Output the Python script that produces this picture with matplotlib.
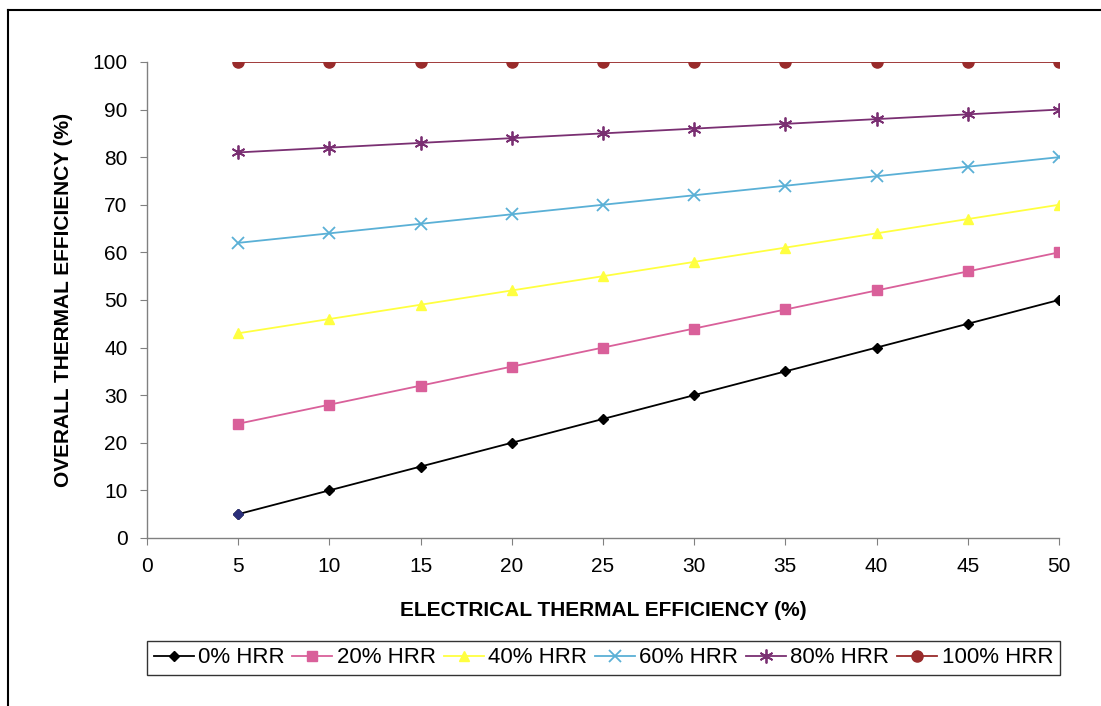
import matplotlib.pyplot as plt
from matplotlib.lines import Line2D

# electrical thermal efficiency (%)
elec_eff = [5, 10, 15, 20, 25, 30, 35, 40, 45, 50]

# overall thermal efficiency (%) for each heat recovery ratio
hrr_0 = [5, 10, 15, 20, 25, 30, 35, 40, 45, 50]
hrr_20 = [24, 28, 32, 36, 40, 44, 48, 52, 56, 60]
hrr_40 = [43, 46, 49, 52, 55, 58, 61, 64, 67, 70]
hrr_60 = [62, 64, 66, 68, 70, 72, 74, 76, 78, 80]
hrr_80 = [81, 82, 83, 84, 85, 86, 87, 88, 89, 90]
hrr_100 = [100, 100, 100, 100, 100, 100, 100, 100, 100, 100]

labels = ['0% HRR', '20% HRR', '40% HRR', '60% HRR', '80% HRR', '100% HRR']

plt.rcParams['font.family'] = ['Liberation Sans', 'DejaVu Sans']

fig = plt.figure(figsize=(11.01, 7.06), dpi=100)
ax = fig.add_axes([0.1335, 0.238, 0.8283, 0.6742])

styles = [
    dict(color='black', marker='D', markersize=5),
    dict(color='#d9609a', marker='s', markersize=7),
    dict(color='#ffff40', marker='^', markersize=7),
    dict(color='#5ab0d6', marker='x', markersize=8, markeredgewidth=1.3),
    dict(color='#7a2f72', marker=(6, 2, 0), markersize=10, markeredgewidth=1.3),
    dict(color='#992b2b', marker='o', markersize=8),
]
series = [hrr_0, hrr_20, hrr_40, hrr_60, hrr_80, hrr_100]

for ys, lab, st in zip(series, labels, styles):
    ax.plot(elec_eff, ys, linewidth=1.3, label=lab, **st)

# first point of the 0% series is navy in the original Excel chart
ax.plot(elec_eff[0], hrr_0[0], marker='D', markersize=5, color='#2b2f7a', linestyle='none')

ax.set_xlim(0, 50)
ax.set_ylim(0, 100)
ax.set_xticks(range(0, 55, 5))
ax.set_yticks(range(0, 110, 10))
for side in ['top', 'right']:
    ax.spines[side].set_visible(False)
for side in ['left', 'bottom']:
    ax.spines[side].set_color('#808080')
    ax.spines[side].set_linewidth(1.0)
ax.tick_params(direction='out', length=5, color='#808080', labelsize=15, pad=9)

ax.set_xlabel('ELECTRICAL THERMAL EFFICIENCY (%)', fontsize=15, fontweight='bold', labelpad=18)
ax.set_ylabel('OVERALL THERMAL EFFICIENCY (%)', fontsize=15, fontweight='bold', labelpad=14)

handles, labs = ax.get_legend_handles_labels()
fig.legend(handles, labs, loc='center', bbox_to_anchor=(0.548, 0.068), ncol=6,
           fontsize=16, frameon=True, fancybox=False, edgecolor='black',
           handlelength=1.8, handletextpad=0.2, columnspacing=0.35,
           borderpad=0.3, borderaxespad=0)

# page frame lines around the chart
fig.add_artist(Line2D([8 / 1101, 1.0], [1 - 10 / 706, 1 - 10 / 706], color='black', linewidth=1.5))
fig.add_artist(Line2D([8 / 1101, 8 / 1101], [0.0, 1 - 10 / 706], color='black', linewidth=1.5))

fig.savefig('out.png', dpi=100)
